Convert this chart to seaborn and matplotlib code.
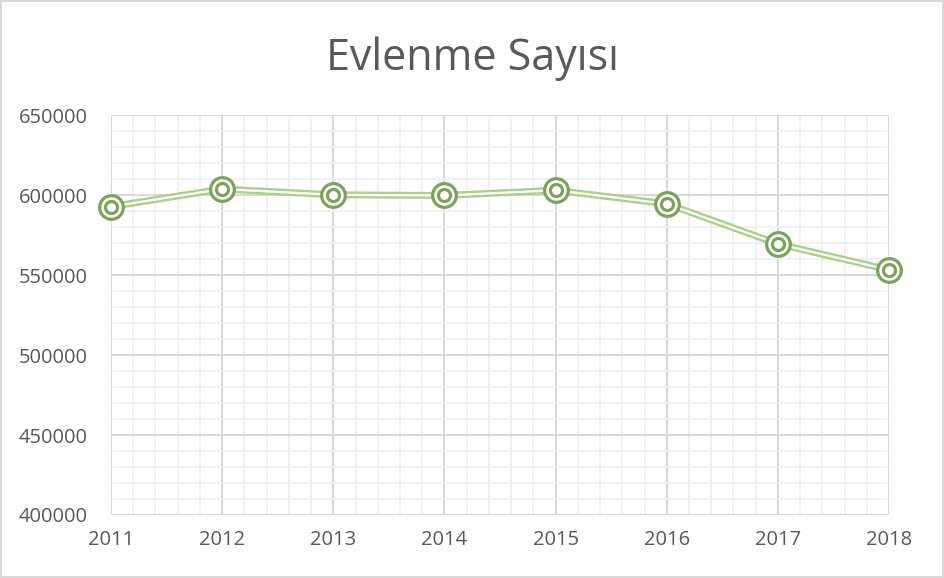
import matplotlib
matplotlib.use("Agg")
import matplotlib.pyplot as plt
from matplotlib.ticker import MultipleLocator
from matplotlib.patches import Rectangle
import seaborn as sns
import pandas as pd

# --- Data ---
years = [2011, 2012, 2013, 2014, 2015, 2016, 2017, 2018]
marriages = [592775, 603751, 600138, 599704, 602982, 594493, 569459, 553202]
df = pd.DataFrame({"year": years, "count": marriages})

LINE_GREEN = "#A9D18E"
MARK_GREEN = "#7BA35A"
TEXT_GRAY = "#595959"

sns.set_style("white")
plt.rcParams["font.family"] = ["Open Sans", "DejaVu Sans"]

fig = plt.figure(figsize=(9.44, 5.78), dpi=100)
ax = fig.add_axes([0.1176, 0.109, 0.8242, 0.692])

# --- Grid ---
ax.set_xlim(2011, 2018)
ax.set_ylim(400000, 650000)
ax.xaxis.set_major_locator(MultipleLocator(1))
ax.xaxis.set_minor_locator(MultipleLocator(0.2))
ax.yaxis.set_major_locator(MultipleLocator(50000))
ax.yaxis.set_minor_locator(MultipleLocator(10000))
ax.grid(which="minor", color="#f0f0f0", linewidth=1.3, zorder=0)
ax.grid(which="major", color="#d9d9d9", linewidth=1.5, zorder=0)
ax.set_axisbelow(True)
for s in ax.spines.values():
    s.set_visible(False)

# --- Double (compound) line ---
sns.lineplot(data=df, x="year", y="count", ax=ax, color=LINE_GREEN, linewidth=5, zorder=3)
sns.lineplot(data=df, x="year", y="count", ax=ax, color="white", linewidth=1.6, zorder=4)

# --- Bullseye markers ---
sns.scatterplot(data=df, x="year", y="count", ax=ax, s=290, marker="o",
                facecolor="white", edgecolor=MARK_GREEN, linewidth=2.3, zorder=5)
sns.scatterplot(data=df, x="year", y="count", ax=ax, s=75, marker="o",
                facecolor="white", edgecolor=MARK_GREEN, linewidth=2.3, zorder=6)

for c in ax.collections:
    c.set_clip_on(False)
for l in ax.lines:
    l.set_clip_on(False)

ax.set_xlabel("")
ax.set_ylabel("")
ax.set_xticks(years)
ax.set_xticklabels([str(y) for y in years])
ax.set_yticks([400000, 450000, 500000, 550000, 600000, 650000])
ax.set_yticklabels(["400000", "450000", "500000", "550000", "600000", "650000"])
ax.tick_params(axis="both", which="both", length=0, labelsize=14.5, labelcolor=TEXT_GRAY)
ax.tick_params(axis="x", pad=11)
ax.tick_params(axis="y", pad=17)

fig.text(0.5, 0.898, "Evlenme Sayısı", ha="center", va="center", fontsize=31, color=TEXT_GRAY)

# --- Figure border ---
fig.patches.append(Rectangle((0.001, 0.001), 0.998, 0.998, transform=fig.transFigure,
                             fill=False, edgecolor="#d9d9d9", linewidth=1.5))

fig.savefig("out.png", dpi=100, facecolor="white")
